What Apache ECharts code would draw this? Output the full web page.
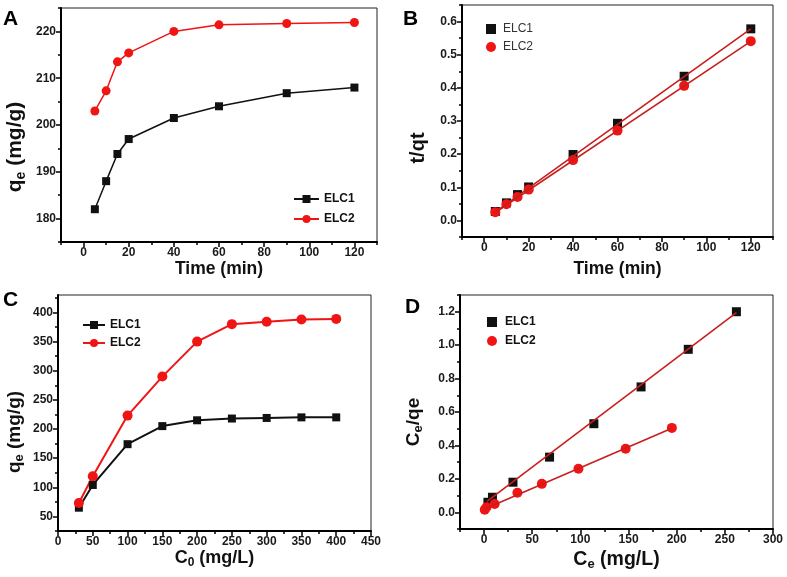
<!DOCTYPE html>
<html>
<head>
<meta charset="utf-8">
<script src="https://cdn.jsdelivr.net/npm/echarts@6/dist/echarts.min.js"></script>
<style>html,body{margin:0;padding:0;background:#fff}#c{width:787px;height:577px}</style>
</head>
<body>
<div id="c"></div>
<script>
// ---- Panel A: kinetics q_e vs time ----
const timeA = [5, 10, 15, 20, 40, 60, 90, 120];
const aELC1 = [182, 188, 193.8, 197, 201.5, 204, 206.8, 208];
const aELC2 = [203, 207.3, 213.5, 215.4, 220, 221.4, 221.7, 221.9];
const aXTicks = [0, 20, 40, 60, 80, 100, 120];
const aXMinor = [-10, 10, 30, 50, 70, 90, 110, 130];
const aYTicks = [180, 190, 200, 210, 220];
const aYMinor = [175, 185, 195, 205, 215, 225];

// ---- Panel B: pseudo-second-order t/qt vs time ----
const timeB = [5, 10, 15, 20, 40, 60, 90, 120];
const bELC1 = [0.027, 0.053, 0.078, 0.101, 0.199, 0.293, 0.435, 0.578];
const bELC2 = [0.025, 0.049, 0.071, 0.093, 0.182, 0.271, 0.406, 0.541];
const bFitX = [5, 120];
const bFit1 = [0.026, 0.578];
const bFit2 = [0.024, 0.540];
const bXTicks = [0, 20, 40, 60, 80, 100, 120];
const bXMinor = [-10, 10, 30, 50, 70, 90, 110, 130];
const bYTicks = [0, 0.1, 0.2, 0.3, 0.4, 0.5, 0.6];
const bYMinor = [-0.05, 0.05, 0.15, 0.25, 0.35, 0.45, 0.55, 0.65];

// ---- Panel C: isotherm q_e vs C0 ----
const c0 = [30, 50, 100, 150, 200, 250, 300, 350, 400];
const cELC1 = [65, 104, 174, 205, 215, 218, 219, 220, 220];
const cELC2 = [73, 119, 223, 290, 350, 380, 384, 388, 389];
const cXTicks = [0, 50, 100, 150, 200, 250, 300, 350, 400, 450];
const cXMinor = [25, 75, 125, 175, 225, 275, 325, 375, 425];
const cYTicks = [50, 100, 150, 200, 250, 300, 350, 400];
const cYMinor = [25, 75, 125, 175, 225, 275, 325, 375, 425];

// ---- Panel D: Langmuir Ce/qe vs Ce ----
const dCe1 = [4, 8.7, 30, 68, 114, 163, 212, 262];
const dELC1 = [0.06, 0.09, 0.18, 0.33, 0.53, 0.75, 0.975, 1.2];
const dCe2 = [0.7, 2.5, 11, 34.6, 60, 98, 147, 195];
const dELC2 = [0.015, 0.03, 0.05, 0.117, 0.17, 0.26, 0.38, 0.505];
const dFit1X = [3, 262];
const dFit1 = [0.065, 1.195];
const dFit2X = [0.5, 195];
const dFit2 = [0.02, 0.503];
const dXTicks = [0, 50, 100, 150, 200, 250, 300];
const dXMinor = [-25, 25, 75, 125, 175, 225, 275];
const dYTicks = [0, 0.2, 0.4, 0.6, 0.8, 1.0, 1.2];
const dYMinor = [-0.1, 0.1, 0.3, 0.5, 0.7, 0.9, 1.1, 1.3];

const FONT = 'Arial, "Liberation Sans", sans-serif';
const BLACK = '#111111';
const RED = '#f01414';
const FITRED = '#c81e1e';

function zip(xs, ys) { return xs.map((x, i) => [x, ys[i]]); }

function richFor(size) {
  return {
    b: { fontSize: size, fontWeight: 'bold', fontFamily: FONT, color: '#111' },
    s: { fontSize: Math.round(size * 0.68), fontWeight: 'bold', fontFamily: FONT, color: '#111', padding: [Math.round(size * 0.5), 0, 0, 0] }
  };
}

function axes(dim, gridIndex, min, max, majors, minors, fmt, name, nameGap, nameSize, namePad) {
  const major = {
    type: 'value', gridIndex, min, max,
    position: dim === 'x' ? 'bottom' : 'left',
    axisLine: { show: true, onZero: false, lineStyle: { color: '#000', width: 2 } },
    axisTick: { show: true, inside: false, length: 5, lineStyle: { color: '#000', width: 1.5 }, customValues: majors },
    axisLabel: { show: true, customValues: majors, formatter: fmt, fontSize: 12, fontWeight: 'bold', fontFamily: FONT, color: '#1a1a1a', margin: 5 },
    splitLine: { show: false },
    name: name, nameLocation: 'middle', nameGap: nameGap,
    nameRotate: dim === 'x' ? 0 : 90,
    nameTextStyle: { rich: richFor(nameSize), padding: namePad || 0 },
    z: 5
  };
  const minor = {
    type: 'value', gridIndex, min, max,
    position: dim === 'x' ? 'bottom' : 'left',
    axisLine: { show: false, onZero: false },
    axisTick: { show: true, inside: false, length: 3, lineStyle: { color: '#000', width: 1.5 }, customValues: minors },
    axisLabel: { show: false },
    splitLine: { show: false }
  };
  return [major, minor];
}

const f0 = v => String(v);
const f1 = v => v.toFixed(1);

const xAxis = [
  ...axes('x', 0, -10, 130, aXTicks, aXMinor, f0, '{b|Time (min)}', 17, 17.5),
  ...axes('x', 1, -10, 130, bXTicks, bXMinor, f0, '{b|Time (min)}', 23, 17.5),
  ...axes('x', 2, 0, 450, cXTicks, cXMinor, f0, '{b|C}{s|0}{b| (mg/L)}', 16, 18),
  ...axes('x', 3, -25, 300, dXTicks, dXMinor, f0, '{b|C}{s|e}{b| (mg/L)}', 19, 19.5)
];
const yAxis = [
  ...axes('y', 0, 175, 225, aYTicks, aYMinor, f0, '{b|q}{s|e}{b| (mg/g)}', 33, 21, [0, 44, 0, 0]),
  ...axes('y', 1, -0.05, 0.65, bYTicks, bYMinor, f1, '{b|t/qt}', 34, 20, [0, 54, 0, 0]),
  ...axes('y', 2, 25, 430, cYTicks, cYMinor, f0, '{b|q}{s|e}{b| (mg/g)}', 32, 19, [0, 38, 0, 0]),
  ...axes('y', 3, -0.1, 1.3, dYTicks, dYMinor, f1, '{b|C}{s|e}{b|/qe}', 35, 19, [0, 20, 0, 0])
];

const grid = [
  { left: 61, top: 8, width: 316, height: 234 },
  { left: 462, top: 5, width: 311, height: 232 },
  { left: 58, top: 295, width: 313, height: 236 },
  { left: 460, top: 295, width: 313, height: 234 }
].map(g => Object.assign(g, { show: true, borderColor: '#222', borderWidth: 1, backgroundColor: 'transparent' }));

function lineSeries(name, gi, data, color, symbol, size, width) {
  return {
    name, type: 'line', xAxisIndex: gi * 2, yAxisIndex: gi * 2, data,
    symbol, symbolSize: size, showSymbol: true,
    lineStyle: { color, width: width },
    itemStyle: { color, opacity: 1 },
    animation: false
  };
}
function scatterSeries(name, gi, data, color, symbol, size) {
  return {
    name, type: 'scatter', xAxisIndex: gi * 2, yAxisIndex: gi * 2, data,
    symbol, symbolSize: size, itemStyle: { color, opacity: 1 }, animation: false
  };
}
function fitSeries(name, gi, data) {
  return {
    name, type: 'line', xAxisIndex: gi * 2, yAxisIndex: gi * 2, data,
    symbol: 'none', lineStyle: { color: FITRED, width: 1.6 }, z: 4, animation: false, silent: true
  };
}

const series = [
  lineSeries('A-ELC1', 0, zip(timeA, aELC1), BLACK, 'rect', 8, 1.5),
  lineSeries('A-ELC2', 0, zip(timeA, aELC2), RED, 'circle', 9, 1.5),
  scatterSeries('B-ELC1', 1, zip(timeB, bELC1), BLACK, 'rect', 9),
  scatterSeries('B-ELC2', 1, zip(timeB, bELC2), RED, 'circle', 10),
  fitSeries('Bfit1', 1, zip(bFitX, bFit1)),
  fitSeries('Bfit2', 1, zip(bFitX, bFit2)),
  lineSeries('C-ELC1', 2, zip(c0, cELC1), BLACK, 'rect', 8, 2),
  lineSeries('C-ELC2', 2, zip(c0, cELC2), RED, 'circle', 10, 2),
  scatterSeries('D-ELC1', 3, zip(dCe1, dELC1), BLACK, 'rect', 9),
  scatterSeries('D-ELC2', 3, zip(dCe2, dELC2), RED, 'circle', 10),
  fitSeries('Dfit1', 3, zip(dFit1X, dFit1)),
  fitSeries('Dfit2', 3, zip(dFit2X, dFit2))
];

const legFmt = n => n.split('-')[1];
const legText = { fontSize: 12, fontWeight: 'bold', fontFamily: FONT, color: '#111' };
const legend = [
  { data: ['A-ELC1', 'A-ELC2'], left: 288, top: 188, orient: 'vertical', itemWidth: 25, itemHeight: 10, itemGap: 8, formatter: legFmt, textStyle: legText, selectedMode: false },
  { data: ['B-ELC1', 'B-ELC2'], left: 481, top: 18, orient: 'vertical', itemWidth: 10, itemHeight: 10, itemGap: 6, formatter: legFmt, textStyle: { fontSize: 12, fontFamily: FONT, color: '#333', padding: [0, 0, 0, 2] }, selectedMode: false },
  { data: ['C-ELC1', 'C-ELC2'], left: 77, top: 314, orient: 'vertical', itemWidth: 22, itemHeight: 10, itemGap: 6, formatter: legFmt, textStyle: legText, selectedMode: false },
  { data: ['D-ELC1', 'D-ELC2'], left: 482, top: 311, orient: 'vertical', itemWidth: 10, itemHeight: 10, itemGap: 7, formatter: legFmt, textStyle: Object.assign({ padding: [0, 0, 0, 3] }, legText), selectedMode: false }
];

const letter = (t, x, y) => ({ type: 'text', left: x, top: y, style: { text: t, font: 'bold 21px ' + FONT, fill: '#000' } });

const chart = echarts.init(document.getElementById('c'), null, { renderer: 'canvas' });
chart.setOption({
  animation: false,
  backgroundColor: '#fff',
  grid, xAxis, yAxis, series, legend,
  graphic: [letter('A', 3, 9), letter('B', 403, 9), letter('C', 3, 290), letter('D', 405, 297)]
});
</script>
</body>
</html>
